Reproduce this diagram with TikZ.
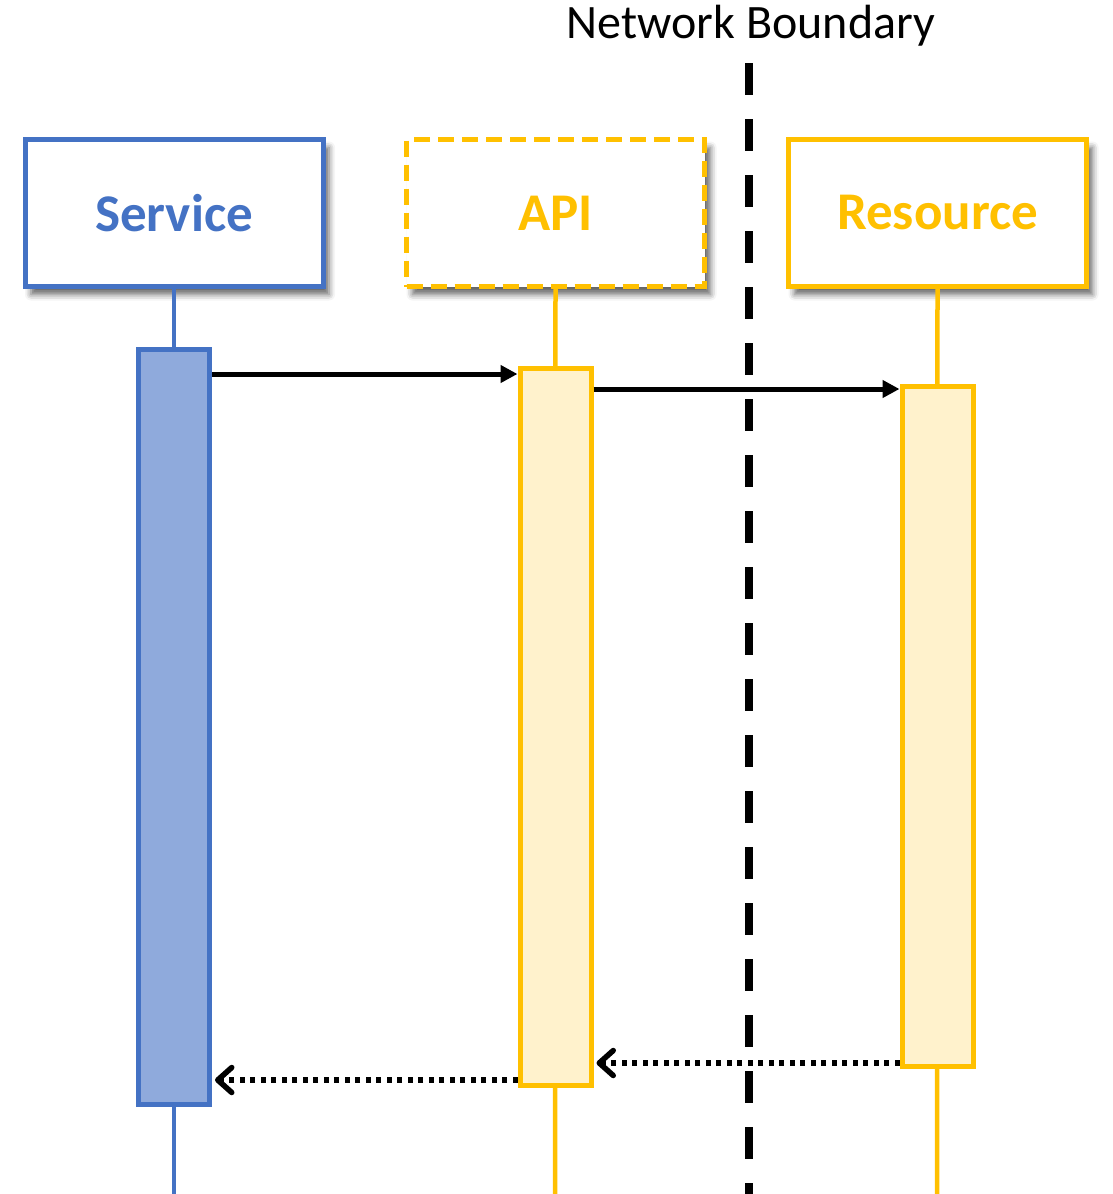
\documentclass[tikz,border=0pt]{standalone}
\usepackage{fontspec}
\setmainfont{Carlito}
\usetikzlibrary{arrows.meta,shadows.blur}
\definecolor{svcblue}{HTML}{4472C4}
\definecolor{svcfill}{HTML}{8FAADC}
\definecolor{gold}{HTML}{FFC000}
\definecolor{goldfill}{HTML}{FFF2CC}
\tikzset{
  head/.style={draw=#1, line width=5pt, fill=white, minimum width=298pt, minimum height=147pt,
    text=#1, font=\bfseries\fontsize{53}{58}\selectfont, inner sep=0pt,
    blur shadow={shadow xshift=6pt, shadow yshift=-8pt, shadow blur radius=6pt, shadow opacity=60}},
  lifeline/.style={draw=#1, line width=4.5pt},
  activation/.style={draw=#1, line width=5pt, minimum width=71pt, inner sep=0pt},
  call/.style={draw=black, line width=5pt, -{Triangle[length=17pt,width=17pt]}},
  reply/.style={draw=black, line width=5.5pt, dash pattern=on 5pt off 5.5pt,
    -{Straight Barb[length=14pt,width=25pt,line width=5.5pt,round]}},
  boundary/.style={draw=black, line width=7.5pt, dash pattern=on 32pt off 24pt}
}
\begin{document}
\begin{tikzpicture}[x=1pt,y=-1pt]
\useasboundingbox (0,0) rectangle (1112,1194);
% end points of the lifelines and the boundary at the page foot
\coordinate (svcEnd) at (174,1194);
\coordinate (apiEnd) at (555,1194);
\coordinate (resEnd) at (937,1194);
% network boundary
\coordinate (nbTop) at (749,63);
\coordinate (nbBot) at (749,1215);
\draw[boundary] (nbTop) -- (nbBot);
\node[font=\fontsize{48}{52}\selectfont, anchor=center] (nblabel) at (751,26) {Network Boundary};
% participant heads
\node[head=svcblue] (svc) at (174,213) {Service};
\node[head=gold, dashed, dash pattern=on 16pt off 8pt] (api) at (555.5,213) {API};
\node[head=gold] (res) at (937.5,213) {Resource};
\draw[lifeline=svcblue] (svc.south) -- (svcEnd);
\draw[lifeline=gold] (api.south) -- (apiEnd);
\draw[lifeline=gold] (res.south) -- (resEnd);
% activation bars
\node[activation=svcblue, fill=svcfill, minimum height=755pt] (svcAct) at (174,727) {};
\node[activation=gold, fill=goldfill, minimum height=717pt] (apiAct) at (555.5,727) {};
\node[activation=gold, fill=goldfill, minimum height=680pt] (resAct) at (937.5,726.5) {};
% messages
\draw[call] (svcAct.east |- 0,374) -- (apiAct.west |- 0,374);
\draw[call] (apiAct.east |- 0,389) -- (resAct.west |- 0,389);
\draw[reply] (resAct.west |- 0,1063) -- ([xshift=3pt]apiAct.east |- 0,1063);
\draw[reply] (apiAct.west |- 0,1080) -- ([xshift=3pt]svcAct.east |- 0,1080);
\end{tikzpicture}
\end{document}
